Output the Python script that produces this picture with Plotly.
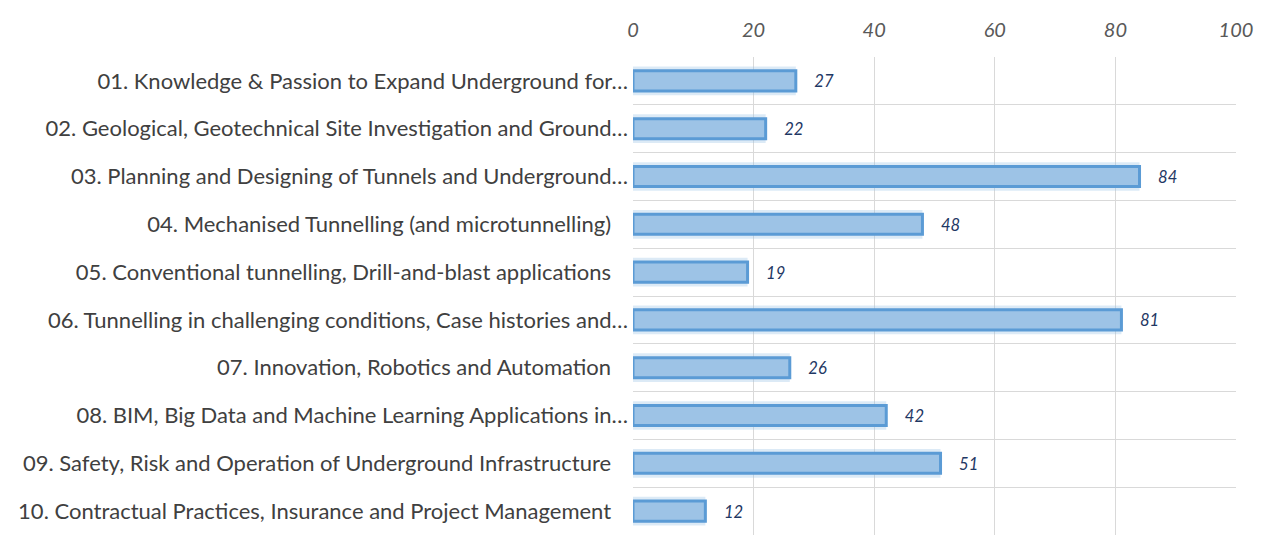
import plotly.graph_objects as go

categories = [
    "01. Knowledge & Passion to Expand Underground for…",
    "02. Geological, Geotechnical Site Investigation and Ground…",
    "03. Planning and Designing of Tunnels and Underground…",
    "04. Mechanised Tunnelling (and microtunnelling)",
    "05. Conventional tunnelling, Drill-and-blast applications",
    "06. Tunnelling in challenging conditions, Case histories and…",
    "07. Innovation, Robotics and Automation",
    "08. BIM, Big Data and Machine Learning Applications in…",
    "09. Safety, Risk and Operation of Underground Infrastructure",
    "10. Contractual Practices, Insurance and Project Management",
]
values = [27, 22, 84, 48, 19, 81, 26, 42, 51, 12]
x_ticks = [0, 20, 40, 60, 80, 100]

# full (non-truncated) labels sit a little further from the axis in the original
tick_text = [c if c.endswith("…") else c + "\u00a0\u00a0\u00a0" for c in categories]

fig = go.Figure()
# soft glow behind bars
fig.add_trace(go.Bar(
    y=categories, x=values, orientation="h", width=0.6,
    marker=dict(color="rgba(155,194,230,0.35)", line=dict(width=0)),
    hoverinfo="skip", showlegend=False,
))
fig.add_trace(go.Bar(
    y=categories, x=values, orientation="h", width=0.42,
    marker=dict(color="#9DC3E6", line=dict(color="#5B9BD5", width=3)),
    texttemplate="    %{x}", textposition="outside",
    textfont=dict(family="Lato", size=19, color="#1F3864", style="italic"),
    cliponaxis=False, showlegend=False,
))

fig.update_layout(
    width=1246, height=527,
    margin=dict(l=625, r=18, t=49, b=0, autoexpand=False),
    paper_bgcolor="white", plot_bgcolor="white",
    barmode="overlay",
    xaxis=dict(
        side="top", range=[0, 100], tickvals=x_ticks,
        showgrid=True, gridcolor="#D9D9D9", gridwidth=1,
        zeroline=False, showline=False, ticks="",
        tickfont=dict(family="Lato", size=20, color="#595959", style="italic"),
        ticklabelstandoff=15, ticklabeloverflow="allow", automargin=False,
    ),
    yaxis=dict(
        type="category", autorange="reversed", tickson="boundaries",
        tickvals=categories, ticktext=tick_text,
        showgrid=True, gridcolor="#D9D9D9", gridwidth=1,
        showline=False, ticks="", zeroline=False, automargin=False,
        tickfont=dict(family="Lato", size=22, color="#404040"),
        ticklabelstandoff=4,
    ),
)
fig.write_html("out.html")
